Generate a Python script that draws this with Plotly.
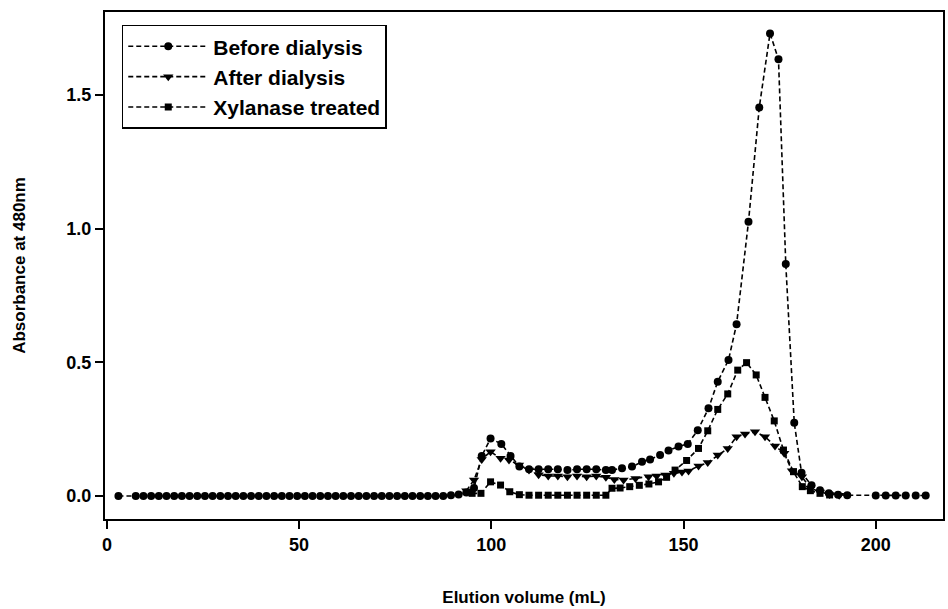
import plotly.graph_objects as go

# Elution volume (mL) and absorbance at 480 nm for each fraction series
before_x = [3, 7.5, 9.5, 11.5, 13.5, 15.5, 17.5, 19.5, 21.5, 23.5, 25.5, 27.5, 29.5, 31.5,
            33.5, 35.5, 37.5, 39.5, 41.5, 43.5, 45.5, 47.5, 49.5, 51.5, 53.5, 55.5, 57.5,
            59.5, 61.5, 63.5, 65.5, 67.5, 69.5, 71.5, 73.5, 75.5, 77.5, 79.5, 81.5, 83.5,
            85.5, 87.5, 89.5, 91.5, 93.5, 95.5, 97.5, 99.8, 102.6, 105, 107.3, 109.8,
            112.3, 114.8, 117.3, 119.8, 122.3, 124.8, 127.3, 129.8, 131.4, 134, 136.6,
            139.2, 141.3, 143.9, 146.1, 148.7, 151.1, 153.7, 156.5, 158.9, 161.7, 163.8,
            166.9, 169.7, 172.5, 174.7, 176.6, 178.8, 180.7, 183.3, 185.5, 187.8, 190.2,
            192.6, 200, 202.6, 205.2, 207.8, 210.4, 213]
before_y = [0, 0, 0, 0, 0, 0, 0, 0, 0, 0, 0, 0, 0, 0,
            0, 0, 0, 0, 0, 0, 0, 0, 0, 0, 0, 0, 0,
            0, 0, 0, 0, 0, 0, 0, 0, 0, 0, 0, 0, 0,
            0, 0, 0.003, 0.006, 0.013, 0.03, 0.15, 0.215, 0.195, 0.15, 0.11, 0.1,
            0.1, 0.1, 0.1, 0.097, 0.1, 0.1, 0.1, 0.097, 0.097, 0.104, 0.11,
            0.128, 0.137, 0.153, 0.17, 0.185, 0.195, 0.246, 0.328, 0.428, 0.509, 0.643,
            1.026, 1.454, 1.731, 1.634, 0.868, 0.274, 0.087, 0.04, 0.022, 0.01, 0.005,
            0.003, 0.002, 0.002, 0.002, 0.002, 0.002, 0.002]

after_x = [93.5, 95.5, 97.5, 99.8, 102.4, 104.6, 107.2, 109.8, 112.3, 114.8, 117.3, 119.8,
           122.3, 124.8, 127.3, 129.8, 132, 134.4, 137.5, 140.9, 143, 145.3, 147.5, 149.6,
           151.3, 153.9, 156.3, 158.9, 161.5, 163.8, 166, 168.6, 171.2, 173.8, 176.2,
           178.2, 180.8, 183, 185.5, 188, 190.5]
after_y = [0.02, 0.06, 0.137, 0.166, 0.141, 0.135, 0.116, 0.097, 0.08, 0.075, 0.075, 0.072,
           0.075, 0.072, 0.075, 0.07, 0.062, 0.06, 0.066, 0.072, 0.075, 0.079, 0.085, 0.09,
           0.094, 0.112, 0.125, 0.153, 0.178, 0.222, 0.232, 0.24, 0.222, 0.187, 0.16,
           0.095, 0.072, 0.03, 0.015, 0.006, 0.003]

xyl_x = [95, 97.3, 99.8, 102.4, 104.8, 107.3, 109.8, 112.3, 114.8, 117.3, 119.8, 122.3,
         124.8, 127.3, 129.8, 131.4, 133.5, 136, 138.5, 141, 143.5, 145.6, 147.8, 150.8,
         153.9, 156.3, 158.9, 161.5, 164.1, 166.4, 168.9, 171.2, 173.6, 176, 178.6, 180.9,
         183, 185.5, 188]
xyl_y = [0.01, 0.01, 0.053, 0.041, 0.016, 0.005, 0.003, 0.003, 0.003, 0.003, 0.003, 0.003,
         0.003, 0.003, 0.003, 0.029, 0.03, 0.035, 0.04, 0.045, 0.053, 0.07, 0.097, 0.133,
         0.178, 0.244, 0.324, 0.382, 0.471, 0.499, 0.453, 0.369, 0.281, 0.172, 0.091, 0.035,
         0.02, 0.01, 0.004]

series_names = ["Before dialysis", "After dialysis", "Xylanase treated"]
x_ticks = [0, 50, 100, 150, 200]
y_ticks = [0.0, 0.5, 1.0, 1.5]

FONT = "Liberation Sans, Arial, Helvetica, sans-serif"

fig = go.Figure()
for name, xs, ys, sym, size in [
    (series_names[0], before_x, before_y, "circle", 8),
    (series_names[1], after_x, after_y, "triangle-down", 9),
    (series_names[2], xyl_x, xyl_y, "square", 7),
]:
    fig.add_trace(go.Scatter(
        x=xs, y=ys, name=name, mode="lines+markers",
        line=dict(color="black", width=1.6, dash="5px,3px"),
        marker=dict(symbol=sym, size=size, color="black"),
    ))

axis_common = dict(
    showgrid=False, zeroline=False, showline=True, linecolor="black", linewidth=2,
    mirror=True, ticks="outside", ticklen=8, tickwidth=2, tickcolor="black",
    tickfont=dict(family=FONT, size=18, color="black", weight="bold"),
)

fig.update_layout(
    width=948, height=609,
    margin=dict(l=105, r=3, t=12, b=90),
    paper_bgcolor="white", plot_bgcolor="white",
    showlegend=True,
    legend=dict(
        x=0.02, y=0.975, xanchor="left", yanchor="top",
        bgcolor="white", bordercolor="black", borderwidth=1.5,
        font=dict(family=FONT, size=21, color="black", weight="bold"),
        tracegroupgap=0, itemwidth=80,
    ),
    xaxis=dict(
        range=[-0.5, 217.5], tickvals=x_ticks, ticktext=[str(v) for v in x_ticks],
        title=dict(text="Elution volume (mL)", standoff=38,
                   font=dict(family=FONT, size=17, color="black", weight="bold")),
        **axis_common,
    ),
    yaxis=dict(
        range=[-0.086, 1.811], tickvals=y_ticks, ticktext=[f"{v:.1f}" for v in y_ticks],
        title=dict(text="Absorbance at 480nm", standoff=36,
                   font=dict(family=FONT, size=17, color="black", weight="bold")),
        **axis_common,
    ),
)

fig.write_html("out.html")
